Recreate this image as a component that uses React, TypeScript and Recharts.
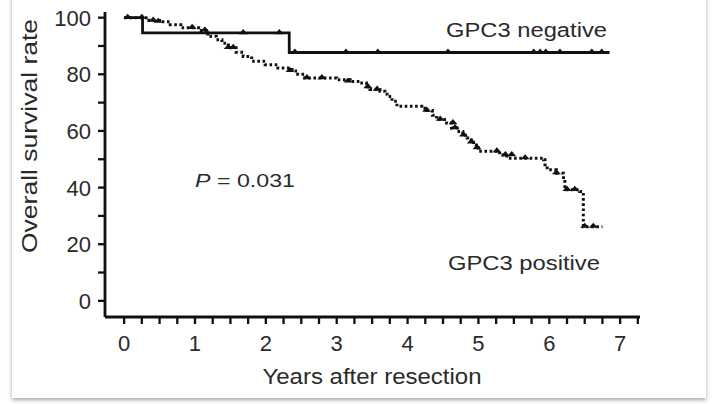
import React from 'react';
import { ComposedChart, Line, Scatter, XAxis, YAxis } from 'recharts';

// GPC3 negative (solid) Kaplan-Meier steps
const negYears = [0, 0.26, 2.33, 6.85];
const negSurvival = [100, 94.6, 87.7, 87.7];
const negCensorYears = [1.68, 2.19, 2.41, 3.13, 3.58, 4.57, 5.78, 5.87, 5.95, 6.15, 6.6, 6.74];
const negCensorSurvival = [94.6, 94.6, 87.7, 87.7, 87.7, 87.7, 87.7, 87.7, 87.7, 87.7, 87.7, 87.7];

// GPC3 positive (dotted) Kaplan-Meier steps
const posYears = [0, 0.35, 0.5, 0.65, 0.8, 1.05, 1.18, 1.3, 1.38, 1.47, 1.58, 1.68, 1.8, 1.99, 2.17, 2.37, 2.45, 2.55, 3.0, 3.19, 3.33, 3.42, 3.47, 3.61, 3.68, 3.71, 3.78, 3.85, 4.2, 4.27, 4.35, 4.41, 4.55, 4.62, 4.7, 4.78, 4.84, 4.9, 4.93, 4.97, 5.0, 5.3, 5.4, 5.92, 5.94, 5.97, 6.1, 6.2, 6.22, 6.43, 6.48, 6.75];
const posSurvival = [100, 99, 98.6, 97.5, 96.4, 95.5, 93.4, 92.2, 91, 89.4, 87.8, 86.3, 84.6, 83.4, 82.2, 81.2, 80, 78.7, 78.1, 77.5, 76.9, 75.5, 74.6, 74, 73, 72.2, 70.5, 68.7, 68, 67.2, 65.5, 64, 62.8, 61, 59.8, 58.5, 57.5, 56, 55, 54, 52.8, 51.5, 50.4, 49.8, 47.5, 46.3, 45.1, 42.8, 39.2, 38.6, 26.2, 26.2];
const posCensorYears = [0.05, 0.25, 0.41, 0.48, 0.96, 1.14, 1.47, 1.54, 2.34, 2.58, 2.79, 3.16, 3.44, 3.57, 4.27, 4.46, 4.64, 4.67, 4.79, 4.9, 4.98, 5.26, 5.38, 5.47, 5.66, 6.1, 6.25, 6.36, 6.5, 6.62];
const posCensorSurvival = [100, 100, 99, 98.6, 96.4, 95.5, 89.4, 89.4, 81.2, 78.7, 78.7, 77.5, 75.5, 74.6, 67.2, 64, 62.8, 61, 58.5, 56, 54, 52.8, 51.5, 51.5, 50.4, 45.1, 39.2, 39.2, 26.2, 26.2];

const xTicks = [0, 0.25, 0.5, 0.75, 1, 1.25, 1.5, 1.75, 2, 2.25, 2.5, 2.75, 3, 3.25, 3.5, 3.75, 4, 4.25, 4.5, 4.75, 5, 5.25, 5.5, 5.75, 6, 6.25, 6.5, 6.75, 7, 7.25];
const xLabels = [0, 1, 2, 3, 4, 5, 6, 7];
const yTicks = [0, 10, 20, 30, 40, 50, 60, 70, 80, 90, 100];
const yLabels = [0, 20, 40, 60, 80, 100];

const negData = negYears.map((t, i) => ({ t, v: negSurvival[i] }));
const posData = posYears.map((t, i) => ({ t, v: posSurvival[i] }));
const negCensor = negCensorYears.map((t, i) => ({ t, v: negCensorSurvival[i] }));
const posCensor = posCensorYears.map((t, i) => ({ t, v: posCensorSurvival[i] }));

const FONT = '"Liberation Sans", Arial, Helvetica, sans-serif';
const TXT = '#2a2a2a';

const XTick = (props: any) => {
  const { x, y, payload } = props;
  const v = payload.value;
  const major = xLabels.includes(v);
  return (
    <g>
      <line x1={x} x2={x} y1={y} y2={y + 7} stroke="#111" strokeWidth={2.3} />
      {major && (
        <text x={x} y={y + 34} textAnchor="middle" fontSize={22} fill={TXT} fontFamily={FONT}>
          {v}
        </text>
      )}
    </g>
  );
};

const YTick = (props: any) => {
  const { x, y, payload } = props;
  const v = payload.value;
  const major = yLabels.includes(v);
  return (
    <g>
      <line x1={x - 7} x2={x} y1={y} y2={y} stroke="#111" strokeWidth={2.3} />
      {major && (
        <text x={x - 14} y={y + 8} textAnchor="end" fontSize={22} fill={TXT} fontFamily={FONT}>
          {v}
        </text>
      )}
    </g>
  );
};

const Censor = (props: any) => {
  const { cx, cy } = props;
  if (cx == null || cy == null) return <g />;
  return <path d={`M${cx - 4.5},${cy + 1.2} L${cx + 4.5},${cy + 1.2} L${cx},${cy - 4} Z`} fill="#111" />;
};

export default function App() {
  return (
    <div style={{ position: 'absolute', left: 0, top: 0, width: 718, height: 404, background: '#fff' }}>
      <div
        style={{
          position: 'absolute',
          left: 12,
          top: -4,
          width: 694,
          height: 402,
          background: '#fff',
          boxShadow: '0 2px 4px rgba(0,0,0,0.35)',
        }}
      />
      <div style={{ position: 'absolute', left: 0, top: 0 }}>
        <ComposedChart width={718} height={404} margin={{ top: 12, right: 78, bottom: 0, left: 0 }}>
          <XAxis
            dataKey="t"
            type="number"
            domain={[-0.27, 7.28]}
            ticks={xTicks}
            interval={0}
            tickSize={0}
            tickMargin={0}
            tickLine={false}
            tick={<XTick />}
            height={87}
            axisLine={{ stroke: '#111', strokeWidth: 2.8 }}
            allowDataOverflow
          />
          <YAxis
            dataKey="v"
            type="number"
            domain={[-5.7, 102]}
            ticks={yTicks}
            interval={0}
            tickSize={0}
            tickMargin={0}
            tickLine={false}
            tick={<YTick />}
            width={105}
            axisLine={{ stroke: '#111', strokeWidth: 2.8 }}
            allowDataOverflow
          />
          <Line
            data={negData}
            dataKey="v"
            type="stepAfter"
            stroke="#111"
            strokeWidth={2.8}
            dot={false}
            isAnimationActive={false}
          />
          <Line
            data={posData}
            dataKey="v"
            type="stepAfter"
            stroke="#111"
            strokeWidth={3}
            strokeDasharray="2.6 2.6"
            dot={false}
            isAnimationActive={false}
          />
          <Scatter data={negCensor} dataKey="v" shape={<Censor />} isAnimationActive={false} />
          <Scatter data={posCensor} dataKey="v" shape={<Censor />} isAnimationActive={false} />
        </ComposedChart>
      </div>
      <svg width={718} height={404} style={{ position: 'absolute', left: 0, top: 0, pointerEvents: 'none' }}>
        <text
          x={372}
          y={384}
          textAnchor="middle"
          fontSize={22}
          fill={TXT}
          fontFamily={FONT}
          textLength={219}
          lengthAdjust="spacingAndGlyphs"
        >
          Years after resection
        </text>
        <text
          transform="translate(37,136) rotate(-90)"
          textAnchor="middle"
          fontSize={22}
          fill={TXT}
          fontFamily={FONT}
          textLength={234}
          lengthAdjust="spacingAndGlyphs"
        >
          Overall survival rate
        </text>
        <text
          x={446}
          y={37}
          fontSize={20}
          fill={TXT}
          fontFamily={FONT}
          textLength={161}
          lengthAdjust="spacingAndGlyphs"
        >
          GPC3 negative
        </text>
        <text
          x={448}
          y={270}
          fontSize={21}
          fill={TXT}
          fontFamily={FONT}
          textLength={152}
          lengthAdjust="spacingAndGlyphs"
        >
          GPC3 positive
        </text>
        <text x={195} y={187} fontSize={19} fill={TXT} fontFamily={FONT} textLength={100} lengthAdjust="spacingAndGlyphs">
          <tspan fontStyle="italic">P</tspan> = 0.031
        </text>
      </svg>
    </div>
  );
}
